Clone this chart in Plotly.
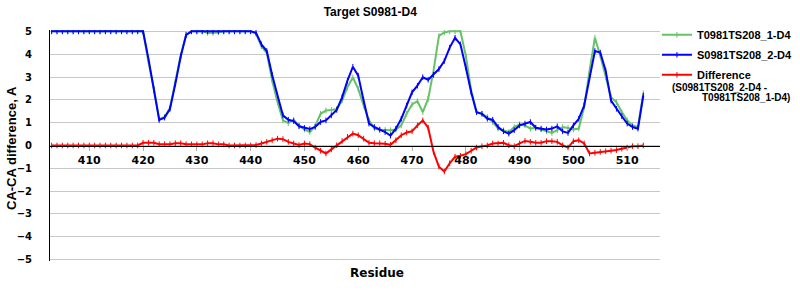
import plotly.graph_objects as go

residues = list(range(403, 514))

model_T = [5]*18 + [
    3.65, 2.5, 1.15, 1.25, 1.65, 2.8, 3.95, 4.85,          # 421-428
    5, 5, 5, 4.93, 4.93, 4.95, 5, 5, 5, 5, 5, 5,          # 429-440
    4.9, 4.35, 4.05, 2.85, 1.9, 1.1, 0.98, 1.13, 0.87, 0.7,   # 441-450
    0.59, 0.85, 1.39, 1.53, 1.56, 1.6, 1.97, 2.55, 2.98, 2.48, # 451-460
    1.75, 1.1, 0.75, 0.68, 0.68, 0.67, 0.7, 0.88, 1.39, 1.8,   # 461-470
    1.94, 1.46, 2.04, 3.28, 4.8, 4.95, 5, 5, 5, 3.93,          # 471-480
    2.41, 1.46, 1.39, 1.25, 1.03, 0.74, 0.67, 0.59, 0.81, 0.93, # 481-490
    0.88, 0.74, 0.78, 0.7, 0.62, 0.55, 0.67, 0.81, 0.77, 0.7,  # 491-500
    0.74, 1.68, 3.28, 4.72, 3.93, 2.99, 2.12, 1.9, 1.46, 1.1,  # 501-510
    0.88, 0.81, 2.29]                                          # 511-513

model_S = [5]*18 + [
    3.8, 2.45, 1.12, 1.22, 1.6, 2.7, 3.9, 4.84,            # 421-428
    5, 5, 5, 5, 5, 5, 5, 5, 5, 5, 5, 5,                    # 429-440
    4.94, 4.43, 4.14, 3.09, 2.19, 1.32, 1.13, 1.07, 0.84, 0.77, # 441-450
    0.72, 0.81, 1.03, 1.1, 1.32, 1.56, 2.11, 2.84, 3.45, 3.06,  # 451-460
    1.97, 0.96, 0.81, 0.7, 0.59, 0.43, 0.74, 1.17, 1.75, 2.33,  # 461-470
    2.62, 2.99, 2.88, 3.1, 3.35, 3.7, 4.29, 4.72, 4.43, 3.42,   # 471-480
    2.33, 1.46, 1.39, 1.17, 1.13, 0.81, 0.62, 0.52, 0.67, 0.88, # 481-490
    0.96, 1.03, 0.78, 0.74, 0.7, 0.74, 0.84, 0.62, 0.55, 0.88,  # 491-500
    1.17, 1.75, 2.99, 4.14, 4.07, 3.28, 1.97, 1.61, 1.28, 0.96, # 501-510
    0.81, 0.74, 2.19]                                           # 511-513

difference = [0]*17 + [
    0.12, 0.12, 0.12, 0.06, 0.06, 0.06, 0.1, 0.1, 0.06, 0.05,   # 420-429
    0.05, 0.05, 0.1, 0.1, 0.05, 0.05, 0, 0, 0, 0, 0,            # 430-440
    0.02, 0.09, 0.16, 0.23, 0.3, 0.28, 0.16, 0.09, 0.02, 0.09,  # 441-450
    0.06, -0.09, -0.23, -0.35, -0.17, 0.01, 0.2, 0.38, 0.52, 0.45, # 451-460
    0.3, 0.12, 0.1, 0.1, 0.08, 0.03, 0.23, 0.45, 0.57, 0.62,    # 461-470
    0.88, 1.1, 0.78, -0.28, -0.93, -1.14, -0.78, -0.49, -0.45, -0.38, # 471-480
    -0.23, -0.09, -0.03, 0, 0.09, 0.09, 0.12, 0.01, -0.03, 0.09, # 481-490
    0.2, 0.16, 0.12, 0.12, 0.19, 0.19, 0.16, 0.01, -0.09, 0.19, # 491-500
    0.23, 0.09, -0.35, -0.32, -0.28, -0.25, -0.23, -0.2, -0.14, -0.09, # 501-510
    -0.03, -0.03, 0]                                            # 511-513

x_ticks = [410, 420, 430, 440, 450, 460, 470, 480, 490, 500, 510]
y_ticks = [-5, -4, -3, -2, -1, 0, 1, 2, 3, 4, 5]

assert len(model_T) == len(residues) == len(model_S) == len(difference)

GREEN = "#66c266"
BLUE = "#0000ff"
RED = "#ff0000"

fig = go.Figure()
series = [
    ("T0981TS208_1-D4", model_T, GREEN, "g1"),
    ("S0981TS208_2-D4", model_S, BLUE, "g2"),
    ("Difference", difference, RED, "g3"),
]
for name, vals, col, grp in series:
    fig.add_trace(go.Scatter(
        x=residues, y=vals, name=name, legendgroup=grp,
        mode="lines+markers",
        line=dict(color=col, width=2),
        marker=dict(symbol="line-ns-open", size=4, color=col,
                    line=dict(color=col, width=1)),
    ))

fig.update_layout(
    width=800, height=300,
    margin=dict(l=50, r=140, t=30, b=39, autoexpand=False),
    paper_bgcolor="white", plot_bgcolor="white",
    title=dict(text="Target S0981-D4", x=0.525, xref="paper", xanchor="center",
               y=0.96, yref="container", yanchor="middle",
               font=dict(family="Liberation Sans", size=12, color="black", weight="bold")),
    showlegend=True,
    legend=dict(x=0.995, xanchor="left", y=1.042, yanchor="top",
                font=dict(family="Liberation Sans", size=11, color="black", weight="bold"),
                itemwidth=30, tracegroupgap=1, bgcolor="rgba(0,0,0,0)"),
    xaxis=dict(range=[402.7, 516.1], tickvals=x_ticks, anchor="free", position=0.5,
               showline=True, linecolor="black", linewidth=1,
               ticks="outside", ticklen=4, tickcolor="#b0b0b0",
               showgrid=False, zeroline=False,
               tickfont=dict(family="DejaVu Sans", size=11, color="black", weight="bold")),
    yaxis=dict(range=[-5.06, 5.06], tickvals=y_ticks,
               showline=True, linecolor="black", linewidth=1,
               showgrid=True, gridcolor="#c8c8c8", gridwidth=1, zeroline=False,
               ticks="outside", ticklen=15, tickcolor="rgba(0,0,0,0)",
               tickfont=dict(family="DejaVu Sans", size=10, color="black", weight="bold")),
    annotations=[
        dict(text="CA-CA difference, A", xref="paper", yref="paper",
             x=-0.062, y=0.49, xanchor="center", yanchor="middle", textangle=-90,
             showarrow=False,
             font=dict(family="Liberation Sans", size=13, color="black", weight="bold")),
        dict(text="Residue", xref="paper", yref="paper", x=0.536, y=0, yshift=-12,
             xanchor="center", yanchor="middle", showarrow=False,
             font=dict(family="DejaVu Sans", size=12, color="black", weight="bold")),
        dict(text="(S0981TS208_2-D4 -", xref="paper", yref="paper", x=1.016, y=0.75,
             xanchor="left", yanchor="middle", showarrow=False,
             font=dict(family="Liberation Sans", size=10, color="black", weight="bold")),
        dict(text="T0981TS208_1-D4)", xref="paper", yref="paper", x=1.066, y=0.706,
             xanchor="left", yanchor="middle", showarrow=False,
             font=dict(family="Liberation Sans", size=10, color="black", weight="bold")),
    ],
)

fig.write_html("out.html")
